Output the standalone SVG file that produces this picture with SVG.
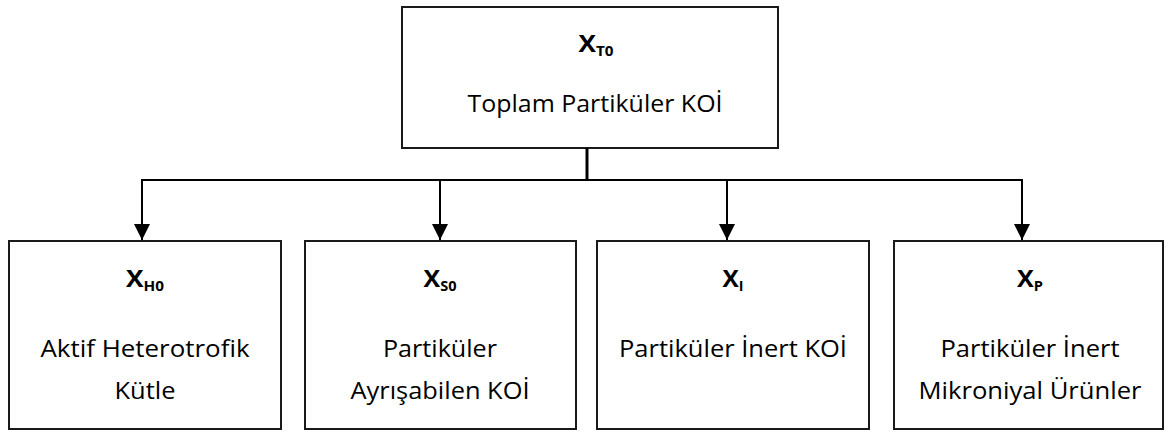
<svg xmlns="http://www.w3.org/2000/svg" width="1166" height="434" viewBox="0 0 1166 434">
  <style>
    .box { fill: #ffffff; stroke: #1a1a1a; stroke-width: 2; }
    .wire { fill: none; stroke: #000000; stroke-width: 2; }
    .trunk { fill: none; stroke: #000000; stroke-width: 3; }
    .label { font-family: "Open Sans", Lato, sans-serif; font-size: 24px; fill: #000000; text-anchor: middle; }
    .sym { font-family: "Open Sans", Lato, sans-serif; font-size: 24px; font-weight: bold; fill: #000000; text-anchor: middle; }
    .sub { font-size: 14px; }
  </style>
  <defs>
    <marker id="arrow" viewBox="0 0 16 16" refX="16" refY="8" markerWidth="16" markerHeight="16" markerUnits="userSpaceOnUse" orient="auto">
      <path d="M0,0 L16,8 L0,16 Z" fill="#000000"/>
    </marker>
  </defs>

  <rect width="1166" height="434" fill="#ffffff"/>

  <!-- total particulate COD -->
  <g id="node-xt0">
    <rect class="box" x="402" y="7" width="376" height="141"/>
    <text class="sym" x="596" y="52" textLength="35" lengthAdjust="spacingAndGlyphs">X<tspan class="sub" dy="4">T0</tspan></text>
    <text class="label" x="595" y="112" textLength="255" lengthAdjust="spacingAndGlyphs">Toplam Partiküler KOİ</text>
  </g>

  <!-- split into four fractions -->
  <g id="connectors">
    <line class="trunk" x1="587" y1="148" x2="587" y2="180"/>
    <line class="wire" x1="141" y1="180" x2="1023" y2="180"/>
    <line class="wire" x1="142" y1="180" x2="142" y2="240" marker-end="url(#arrow)"/>
    <line class="wire" x1="440" y1="180" x2="440" y2="240" marker-end="url(#arrow)"/>
    <line class="wire" x1="727" y1="180" x2="727" y2="240" marker-end="url(#arrow)"/>
    <line class="wire" x1="1022" y1="180" x2="1022" y2="240" marker-end="url(#arrow)"/>
  </g>

  <g id="node-xh0">
    <rect class="box" x="9" y="241" width="272" height="188"/>
    <text class="sym" x="145" y="287" textLength="38" lengthAdjust="spacingAndGlyphs">X<tspan class="sub" dy="4">H0</tspan></text>
    <text class="label" x="145" y="357" textLength="209" lengthAdjust="spacingAndGlyphs">Aktif Heterotrofik</text>
    <text class="label" x="145" y="399" textLength="61" lengthAdjust="spacingAndGlyphs">Kütle</text>
  </g>

  <g id="node-xs0">
    <rect class="box" x="305" y="241" width="271" height="188"/>
    <text class="sym" x="440" y="287" textLength="33" lengthAdjust="spacingAndGlyphs">X<tspan class="sub" dy="4">S0</tspan></text>
    <text class="label" x="440" y="357" textLength="114" lengthAdjust="spacingAndGlyphs">Partiküler</text>
    <text class="label" x="440" y="399" textLength="179" lengthAdjust="spacingAndGlyphs">Ayrışabilen KOİ</text>
  </g>

  <g id="node-xi">
    <rect class="box" x="597" y="241" width="272" height="188"/>
    <text class="sym" x="733" y="287" textLength="21" lengthAdjust="spacingAndGlyphs">X<tspan class="sub" dy="4">I</tspan></text>
    <text class="label" x="733" y="357" textLength="228" lengthAdjust="spacingAndGlyphs">Partiküler İnert KOİ</text>
  </g>

  <g id="node-xp">
    <rect class="box" x="894" y="241" width="269" height="188"/>
    <text class="sym" x="1030" y="287" textLength="26" lengthAdjust="spacingAndGlyphs">X<tspan class="sub" dy="4">P</tspan></text>
    <text class="label" x="1030" y="357" textLength="179" lengthAdjust="spacingAndGlyphs">Partiküler İnert</text>
    <text class="label" x="1030" y="399" textLength="223" lengthAdjust="spacingAndGlyphs">Mikroniyal Ürünler</text>
  </g>
</svg>
